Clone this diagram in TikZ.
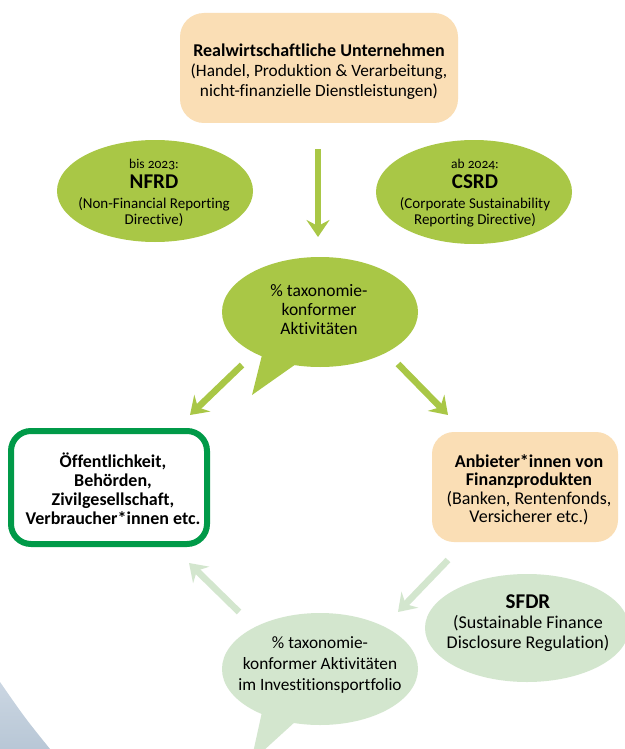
\documentclass[tikz,border=0pt]{standalone}
\usepackage{fontspec}
\setmainfont{Carlito}[Numbers=OldStyle, Ligatures=NoCommon]
\usetikzlibrary{arrows.meta,shapes.geometric}
\definecolor{peach}{RGB}{250,222,181}
\definecolor{lime}{RGB}{169,199,70}
\definecolor{dkgreen}{RGB}{0,154,72}
\definecolor{pale}{RGB}{211,230,206}
\definecolor{greytop}{RGB}{203,214,226}
\definecolor{greybot}{RGB}{184,199,214}
\tikzset{
  arr/.style={line width=6.5pt, -{Stealth[length=17pt,width=23pt,inset=6pt]}},
  limearr/.style={arr, draw=lime},
  palearr/.style={arr, draw=pale},
  txt/.style={align=center, inner sep=0pt, text=black},
  rbox/.style={rounded corners=24pt, inner sep=0pt},
}
\newcommand{\fsz}[2]{\fontsize{#1}{#2}\selectfont}
\begin{document}
\begin{tikzpicture}[x=1pt,y=-1pt]
\useasboundingbox (0,0) rectangle (624,749);
\fill[white] (0,0) rectangle (624,749);
% grey background segment
\shade[top color=greytop, bottom color=greybot] (0,682) .. controls (25,718) .. (50,749) -- (0,749) -- cycle;

% top box
\node[rbox, fill=peach, minimum width=278pt, minimum height=110pt] (topbox) at (319,68) {};
\node[txt, font=\fsz{17.3}{20}] (top) at (319,72)
  {{\fsz{18}{20}\bfseries Realwirtschaftliche Unternehmen}\\(Handel, Produktion \& Verarbeitung,\\nicht-finanzielle Dienstleistungen)};

% NFRD / CSRD ellipses
\fill[lime] (155,191) ellipse [x radius=98pt, y radius=51pt];
\fill[lime] (474,192) ellipse [x radius=98pt, y radius=52pt];
\node[txt, font=\fsz{15}{20}] (nfrd) at (154,193)
  {{\fsz{13.5}{15}bis 2023:}\\{\fsz{21}{22}\bfseries NFRD}\\(Non-Financial Reporting\\[-4pt]Directive)};
\node[txt, font=\fsz{15}{20}] (csrd) at (475,193)
  {{\fsz{13.5}{15}ab 2024:}\\{\fsz{21}{22}\bfseries CSRD}\\(Corporate Sustainability\\[-4pt]Reporting Directive)};

% vertical arrow
\coordinate (v1) at (318,149);
\coordinate (v2) at (318,237);
\draw[limearr] (v1) -- (v2);

% center speech bubble
\fill[lime] (320,312) ellipse [x radius=98pt, y radius=55pt];
\fill[lime] (262,355) -- (252,395) -- (296,364) -- cycle;
\node[txt, font=\fsz{17.5}{19}] (tax) at (319,310) {\% taxonomie-\\konformer\\Aktivitäten};

% arrows from center
\coordinate (l1) at (242,365);
\coordinate (l2) at (190,415);
\coordinate (r1) at (398,364);
\coordinate (r2) at (448,415);
\draw[limearr] (l1) -- (l2);
\draw[limearr] (r1) -- (r2);

% left box
\node[draw=dkgreen, line width=6pt, fill=white, minimum width=196pt, minimum height=113pt, rounded corners=20pt, inner sep=0pt] (pubbox) at (109,487.5) {};
\node[txt, font=\fsz{18}{19}\bfseries] (pub) at (113,488.5)
  {Öffentlichkeit,\\Behörden,\\Zivilgesellschaft,\\Verbraucher*innen etc.};

% right box
\node[rbox, fill=peach, minimum width=186pt, minimum height=110pt, rounded corners=22pt] (provbox) at (525,487) {};
\node[txt, font=\fsz{18}{18.5}] (prov) at (529,490)
  {\textbf{Anbieter*innen von}\\\textbf{Finanzprodukten}\\(Banken, Rentenfonds,\\Versicherer etc.)};

% pale arrows
\coordinate (p1) at (448,560);
\coordinate (p2) at (398,612);
\coordinate (q1) at (239,612);
\coordinate (q2) at (189,563);
\draw[palearr] (p1) -- (p2);
\draw[palearr] (q1) -- (q2);

% SFDR ellipse
\fill[pale] (527,628) ellipse [x radius=102pt, y radius=54pt];
\node[txt, font=\fsz{18}{19.5}] (sfdr) at (528,623)
  {{\fsz{21}{22}\bfseries SFDR}\\[1pt](Sustainable Finance\\Disclosure Regulation)};

% bottom speech bubble
\fill[pale] (320,669) ellipse [x radius=98pt, y radius=56pt];
\fill[pale] (262,712) -- (251,762) -- (296,721) -- cycle;
\node[txt, font=\fsz{17.3}{21}] (port) at (320,665)
  {\% taxonomie-\\konformer Aktivitäten\\im Investitionsportfolio};
\end{tikzpicture}
\end{document}
